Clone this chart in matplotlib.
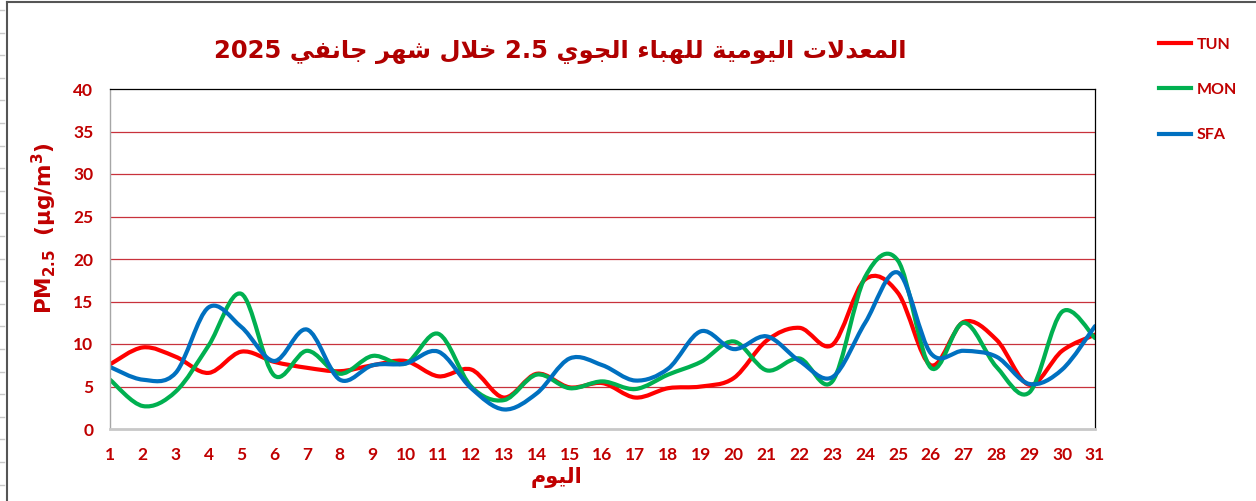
import matplotlib
matplotlib.use("Agg")
import matplotlib.pyplot as plt
from matplotlib.path import Path
from matplotlib.patches import PathPatch
from matplotlib.lines import Line2D
import numpy as np

# données (moyennes journalières PM2.5, janvier 2025)
days = list(range(1, 32))
tun = [7.6, 9.6, 8.5, 6.6, 9.1, 7.9, 7.2, 6.8, 7.5, 8.0, 6.2,
       7.0, 3.7, 6.5, 4.9, 5.4, 3.7, 4.8, 5.0, 6.0, 10.4,
       11.9, 9.9, 17.6, 16.0, 7.5, 12.6, 10.5, 5.2, 9.2, 11.1]
mon = [5.8, 2.7, 4.4, 9.8, 15.9, 6.3, 9.2, 6.5, 8.6, 7.7, 11.2,
       5.0, 3.4, 6.4, 4.8, 5.6, 4.7, 6.4, 7.9, 10.3, 6.9,
       8.3, 5.6, 17.9, 19.8, 7.2, 12.5, 7.3, 4.3, 13.8, 10.7]
sfa = [7.3, 5.8, 6.6, 14.3, 12.0, 8.0, 11.7, 5.8, 7.5, 7.7, 9.1,
       4.8, 2.3, 4.2, 8.3, 7.5, 5.7, 7.1, 11.5, 9.4, 10.9,
       8.0, 6.1, 12.5, 18.4, 8.9, 9.2, 8.5, 5.3, 7.0, 12.1]
stations = ["TUN", "MON", "SFA"]
colors = ["#FF0000", "#00B050", "#0070C0"]
yticks = [0, 5, 10, 15, 20, 25, 30, 35, 40]

title_ar = "المعدلات اليومية للهباء الجوي 2.5 خلال شهر جانفي 2025"
xlabel_ar = "اليوم"
dark_red = "#C00000"

# formes de présentation arabes (isolée, finale, initiale, médiane)
FORMS = {
    'ا': ('\uFE8D', '\uFE8E'),
    'ب': ('\uFE8F', '\uFE90', '\uFE91', '\uFE92'),
    'ة': ('\uFE93', '\uFE94'),
    'ت': ('\uFE95', '\uFE96', '\uFE97', '\uFE98'),
    'ج': ('\uFE9D', '\uFE9E', '\uFE9F', '\uFEA0'),
    'خ': ('\uFEA5', '\uFEA6', '\uFEA7', '\uFEA8'),
    'د': ('\uFEA9', '\uFEAA'),
    'ر': ('\uFEAD', '\uFEAE'),
    'ش': ('\uFEB5', '\uFEB6', '\uFEB7', '\uFEB8'),
    'ع': ('\uFEC9', '\uFECA', '\uFECB', '\uFECC'),
    'ف': ('\uFED1', '\uFED2', '\uFED3', '\uFED4'),
    'ل': ('\uFEDD', '\uFEDE', '\uFEDF', '\uFEE0'),
    'م': ('\uFEE1', '\uFEE2', '\uFEE3', '\uFEE4'),
    'ن': ('\uFEE5', '\uFEE6', '\uFEE7', '\uFEE8'),
    'ه': ('\uFEE9', '\uFEEA', '\uFEEB', '\uFEEC'),
    'و': ('\uFEED', '\uFEEE'),
    'ي': ('\uFEF1', '\uFEF2', '\uFEF3', '\uFEF4'),
    'ء': ('\uFE80',),
}


def shape_word(w):
    out = []
    i = 0
    n = len(w)
    while i < n:
        c = w[i]
        prev_j = i > 0 and len(FORMS.get(w[i - 1], ())) == 4
        if c == 'ل' and i + 1 < n and w[i + 1] == 'ا':  # ligature lam-alef
            out.append('\uFEFC' if prev_j else '\uFEFB')
            i += 2
            continue
        f = FORMS.get(c)
        if f is None:
            out.append(c)
        elif len(f) == 1:
            out.append(f[0])
        else:
            next_j = len(f) == 4 and i + 1 < n and len(FORMS.get(w[i + 1], ())) >= 2
            if prev_j and next_j:
                out.append(f[3])
            elif prev_j:
                out.append(f[1])
            elif next_j:
                out.append(f[2])
            else:
                out.append(f[0])
        i += 1
    return ''.join(reversed(out))


def visual(text):
    res = []
    for w in text.split(' '):
        if any(ch in FORMS for ch in w):
            res.append(shape_word(w))
        else:
            res.append(w)
    return ' '.join(reversed(res))


def smooth_path(x, y):
    # courbe lissée type Excel (Bézier cubique passant par les points)
    x = np.asarray(x, float)
    y = np.asarray(y, float)
    n = len(x)
    verts = [(x[0], y[0])]
    codes = [Path.MOVETO]
    for i in range(n - 1):
        i0 = max(i - 1, 0)
        i3 = min(i + 2, n - 1)
        c1 = (x[i] + (x[i + 1] - x[i0]) / 6, y[i] + (y[i + 1] - y[i0]) / 6)
        c2 = (x[i + 1] - (x[i3] - x[i]) / 6, y[i + 1] - (y[i3] - y[i]) / 6)
        verts += [c1, c2, (x[i + 1], y[i + 1])]
        codes += [Path.CURVE4] * 3
    return Path(verts, codes)


plt.rcParams['font.family'] = ['Lato', 'DejaVu Sans']

W, H = 1256, 501
fig = plt.figure(figsize=(W / 100, H / 100), dpi=100)
ax = fig.add_axes([110 / W, 1 - 429 / H, (1095 - 110) / W, (429 - 89) / H])

for serie, col in zip([tun, mon, sfa], colors):
    ax.add_patch(PathPatch(smooth_path(days, serie), facecolor='none', edgecolor=col,
                           lw=3, capstyle='round', joinstyle='round'))

ax.set_xlim(1, 31)
ax.set_ylim(0, 40)
ax.set_xticks(days)
ax.set_yticks(yticks)
for v in yticks[1:-1]:
    ax.axhline(v, color='#C8323C', lw=0.9, zorder=0)

ax.tick_params(length=0, labelsize=12.5, labelcolor=dark_red)
ax.tick_params(axis='y', pad=12)
ax.tick_params(axis='x', pad=13)
for lab in ax.get_xticklabels() + ax.get_yticklabels():
    lab.set_fontweight('bold')

ax.spines['top'].set_color('black')
ax.spines['top'].set_linewidth(0.9)
ax.spines['right'].set_color('black')
ax.spines['right'].set_linewidth(0.9)
ax.spines['left'].set_color('#A6A6A6')
ax.spines['left'].set_linewidth(1.0)
ax.spines['bottom'].set_color('#C8C8C8')
ax.spines['bottom'].set_linewidth(2.0)

fig.text(44 / W, 1 - 228 / H, r"$\mathbf{PM_{2.5}\ \ (\mu g/m^3)}$", color=dark_red,
         fontsize=15.5, rotation=90, ha='center', va='center')

fig.text(560 / W, 1 - 52 / H, visual(title_ar), ha='center', va='center',
         fontsize=17.5, fontweight='bold', color='#B00000', family=['DejaVu Sans'])
fig.text(556 / W, 1 - 478 / H, visual(xlabel_ar), ha='center', va='center',
         fontsize=15, fontweight='bold', color=dark_red, family=['DejaVu Sans'])

handles = [Line2D([], [], color=c, lw=3) for c in colors]
leg = fig.legend(handles, stations, loc='upper left', bbox_to_anchor=(1145 / W, 1 - 23 / H),
                 frameon=False, handlelength=2.0, handletextpad=0.35, labelspacing=1.95,
                 prop={'size': 11.5, 'weight': 'bold'})
for t in leg.get_texts():
    t.set_color(dark_red)

# cadre de la zone graphique (capture Excel)
fig.add_artist(Line2D([7 / W, 7 / W], [0, 1 - 1.5 / H], color='#555555', lw=1.5,
                      transform=fig.transFigure))
fig.add_artist(Line2D([7 / W, 1], [1 - 1.5 / H, 1 - 1.5 / H], color='#555555', lw=1.5,
                      transform=fig.transFigure))
for k in range(22):
    yy = 1 - (10 + 22.6 * k) / H
    fig.add_artist(Line2D([0, 4 / W], [yy, yy], color='#C8C8C8', lw=1,
                          transform=fig.transFigure))

fig.savefig("out.png", dpi=100)
